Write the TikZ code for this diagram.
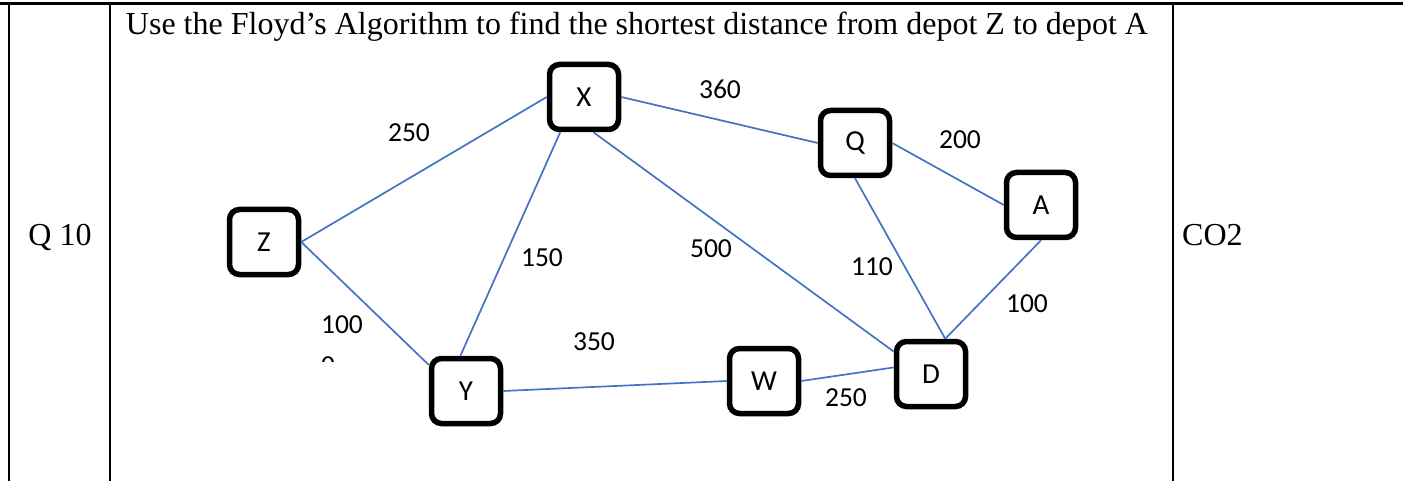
\documentclass[tikz,border=0pt]{standalone}
\usepackage{fontspec}
\setmainfont{Liberation Serif}
\newfontfamily\labfont{Carlito}
\definecolor{edgeblue}{RGB}{68,114,196}
\begin{document}
\begin{tikzpicture}[x=1pt,y=-1pt,
  depot/.style={draw=black, line width=5.5pt, rounded corners=10pt, fill=white,
    minimum width=69pt, minimum height=65pt, inner sep=0pt,
    font=\labfont\fontsize{29}{34}\selectfont},
  road/.style={draw=edgeblue, line width=1.7pt},
  dist/.style={anchor=base, inner sep=0pt, font=\labfont\fontsize{27.5}{33}\selectfont},
  rule/.style={line width=2.5pt, draw=black},
  cell/.style={anchor=base, inner sep=0pt, font=\fontsize{32}{38}\selectfont}]
\useasboundingbox (0,0) rectangle (1403,481);

% table frame
\coordinate (tl) at (0,3.5);
\coordinate (tr) at (1403,3.5);
\draw[rule] (tl) -- (tr);
\draw[rule] (9,3.5) -- (9,481);
\draw[rule] (110,3.5) -- (110,481);
\draw[rule] (1173,3.5) -- (1173,481);

% table text
\node[cell] (qno) at (60,245) {Q 10};
\node[cell, anchor=base west] (co) at (1182,245) {CO2};
\node[cell] (title) at (637,35) {Use the Floyd’s Algorithm to find the shortest distance from depot Z to depot A};

% depots
\node[depot] (Z) at (264,242) {Z};
\node[depot] (X) at (584,97) {X};
\node[depot] (Q) at (855,143) {Q};
\node[depot] (A) at (1041,205) {A};
\node[depot] (Y) at (466,391) {Y};
\node[depot] (W) at (764,381) {W};
\node[depot] (D) at (931,374) {D};

% roads
\draw[road] (Z.east) -- (X.west);
\draw[road] (Z.east) -- (Y.145);
\draw[road] (X.236) -- (Y.99);
\draw[road] (X.east) -- (Q.west);
\draw[road] (X.285) -- (D.149);
\draw[road] (Q.east) -- (A.west);
\draw[road] (Q.south) -- (D.68);
\draw[road] (A.south) -- (D.68);
\draw[road] (Y.east) -- (W.west);
\draw[road] (W.east) -- (D.170);

% distances
\node[dist] (d1) at (409,142) {250};
\node[dist] (d2) at (720,99) {360};
\node[dist] (d3) at (960,149) {200};
\node[dist] (d4) at (542,266) {150};
\node[dist] (d5) at (711,258) {500};
\node[dist] (d6) at (872,276) {110};
\node[dist] (d7) at (1027,312) {100};
\node[dist] (d8) at (342,333) {100};
\node[dist] (d9) at (594,350) {350};
\node[dist] (d10) at (846,406) {250};

% clipped second line under the left 100
\begin{scope}
\clip (300,345) rectangle (380,361);
\node[dist] (d8b) at (328,374.5) {0};
\end{scope}
\end{tikzpicture}
\end{document}
